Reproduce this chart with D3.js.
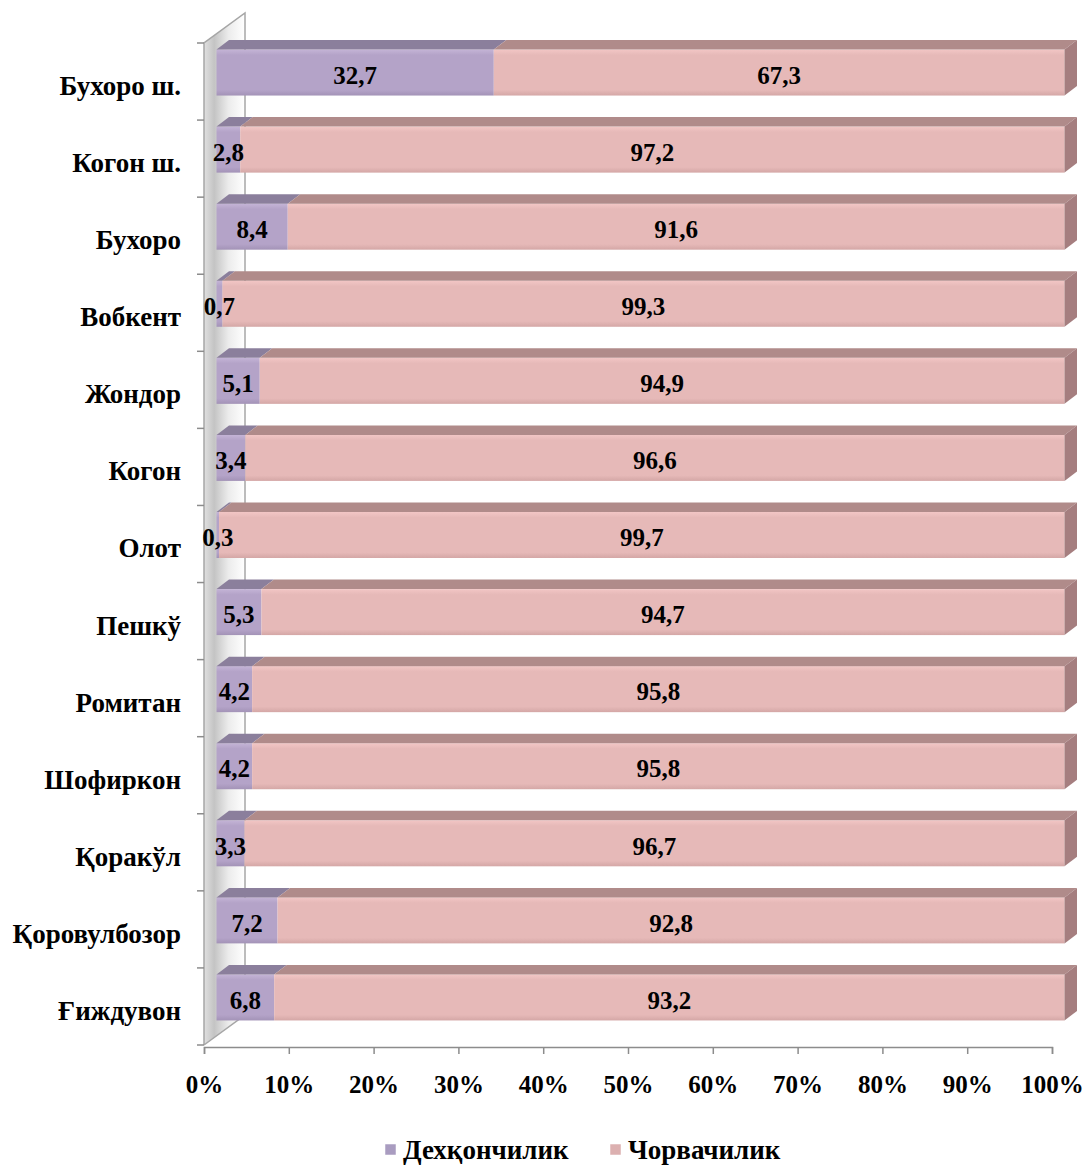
<!DOCTYPE html>
<html><head><meta charset="utf-8">
<script src="https://cdn.jsdelivr.net/npm/d3@7/dist/d3.min.js"></script>
<style>body{margin:0;background:#fff}svg{display:block}</style>
</head><body>
<svg id="c" width="1086" height="1165"></svg>
<script>
const categories = ["Бухоро ш.","Когон ш.","Бухоро","Вобкент","Жондор","Когон","Олот","Пешкў","Ромитан","Шофиркон","Қоракўл","Қоровулбозор","Ғиждувон"];
const dehqon = [32.7,2.8,8.4,0.7,5.1,3.4,0.3,5.3,4.2,4.2,3.3,7.2,6.8];
const chorva = [67.3,97.2,91.6,99.3,94.9,96.6,99.7,94.7,95.8,95.8,96.7,92.8,93.2];
const seriesNames = ["Дехқончилик","Чорвачилик"];
const tickLabels = ["0%","10%","20%","30%","40%","50%","60%","70%","80%","90%","100%"];

const svg = d3.select("#c");
const font = "'Liberation Serif','Times New Roman',serif";
const x = d3.scaleLinear().domain([0,100]).range([204,1052]);
const y = d3.scaleBand().domain(categories).range([43,1045]).padding(0);
const WX = 41, WY = -30;       // wall depth
const FX = 12.5, FY = -9;      // bar front offset
const DX = 12.5, DY = -9.5;    // bar depth
const BH = 46;

const defs = svg.append("defs");
const wg = defs.append("linearGradient").attr("id","wall").attr("x1",0).attr("x2",1).attr("y1",0).attr("y2",0);
wg.append("stop").attr("offset",0).attr("stop-color","#e0e0e0");
wg.append("stop").attr("offset",0.25).attr("stop-color","#c4c4c4");
wg.append("stop").attr("offset",0.6).attr("stop-color","#ececec");
wg.append("stop").attr("offset",1).attr("stop-color","#ffffff");
function vgrad(id, c1, c2, c3){
  const g = defs.append("linearGradient").attr("id",id).attr("x1",0).attr("x2",0).attr("y1",0).attr("y2",1);
  g.append("stop").attr("offset",0).attr("stop-color",c1);
  g.append("stop").attr("offset",0.12).attr("stop-color",c2);
  g.append("stop").attr("offset",0.88).attr("stop-color",c2);
  g.append("stop").attr("offset",1).attr("stop-color",c3);
}
vgrad("pf","#c4b4d6","#b4a3c8","#a393b7");
vgrad("kf","#f2c6c5","#e6b9b8","#d4a7a6");
const colors = {front:["url(#pf)","url(#kf)"], top:["#8b7f9c","#b08b8a"], side:["#9585a8","#a57e7f"]};
const legendCol = ["#a99cc0","#dcb0b0"];

// wall
const x0 = x(0), yTop = y.range()[0], yBot = y.range()[1];
svg.append("path").attr("d",`M${x0},${yTop}L${x0+WX},${yTop+WY}L${x0+WX},${yBot+WY}L${x0},${yBot}Z`).attr("fill","url(#wall)");
svg.append("path").attr("d",`M${x0},${yBot}L${x0},${yTop}L${x0+WX},${yTop+WY}L${x0+WX},${yBot+WY}L${x0},${yBot}`).attr("fill","none").attr("stroke","#a6a6a6").attr("stroke-width",1.5);
// category tick marks on wall
y.domain().concat([null]).forEach((d,i)=>{
  const yy = yTop + i*y.step();
  svg.append("line").attr("x1",x0-7).attr("x2",x0).attr("y1",yy).attr("y2",yy).attr("stroke","#8c8c8c").attr("stroke-width",1.5);
});

// x axis
const xAxis = d3.axisBottom(x).tickValues(d3.range(0,101,10)).tickSize(7).tickFormat((d,i)=>tickLabels[i]);
const ax = svg.append("g").attr("transform",`translate(0,${yBot+2})`).call(xAxis);
ax.select(".domain").attr("stroke","#8c8c8c").attr("stroke-width",1.5);
ax.selectAll(".tick line").attr("stroke","#8c8c8c").attr("stroke-width",1.5);
ax.selectAll(".tick text").attr("font-family",font).attr("font-weight","bold").attr("font-size",25).attr("fill","#000").attr("dy","1.45em");

// bars
const g = svg.append("g");
categories.forEach((cat,i)=>{
  const vals = [dehqon[i], chorva[i]];
  const yc = y(cat) + y.bandwidth()/2 + FY;
  const t = yc - BH/2, b = yc + BH/2;
  let acc = 0;
  const segs = vals.map((v,k)=>{ const s = {k, v, a:acc, e:acc+v}; acc += v; return s; });
  segs.forEach(s=>{
    const xa = x(s.a)+FX, xe = x(s.e)+FX;
    g.append("rect").attr("x",xa).attr("y",t).attr("width",xe-xa).attr("height",BH).attr("fill",colors.front[s.k]);
    g.append("path").attr("d",`M${xa},${t}L${xe},${t}L${xe+DX},${t+DY}L${xa+DX},${t+DY}Z`).attr("fill",colors.top[s.k]);
    if (s.k === segs.length-1) {
      g.append("path").attr("d",`M${xe},${t}L${xe+DX},${t+DY}L${xe+DX},${b+DY}L${xe},${b}Z`).attr("fill",colors.side[s.k]);
    }
  });
  segs.forEach(s=>{
    const xm = (x(s.a)+x(s.e))/2 + FX;
    g.append("text").attr("x",xm).attr("y",yc).attr("dy","0.45em").attr("text-anchor","middle")
      .attr("font-family",font).attr("font-weight","bold").attr("font-size",25).attr("fill","#000")
      .text(String(s.v).replace(".",","));
  });
});

// category labels
svg.append("g").selectAll("text").data(categories).join("text")
  .attr("x",181).attr("y",d=>y(d)+y.bandwidth()/2+4).attr("dy","0.35em").attr("text-anchor","end")
  .attr("font-family",font).attr("font-weight","bold").attr("font-size",27).attr("fill","#000").text(d=>d);

// legend
const lg = svg.append("g");
const lx = [391, 616];
seriesNames.forEach((n,i)=>{
  lg.append("rect").attr("x",lx[i]-6).attr("y",1144).attr("width",11).attr("height",11).attr("fill",legendCol[i]).attr("stroke","#fff").attr("stroke-width",0.5);
  lg.append("text").attr("x",lx[i]+12).attr("y",1150).attr("dy","0.35em").attr("font-family",font).attr("font-weight","bold").attr("font-size",27).text(n);
});
</script>
</body></html>
